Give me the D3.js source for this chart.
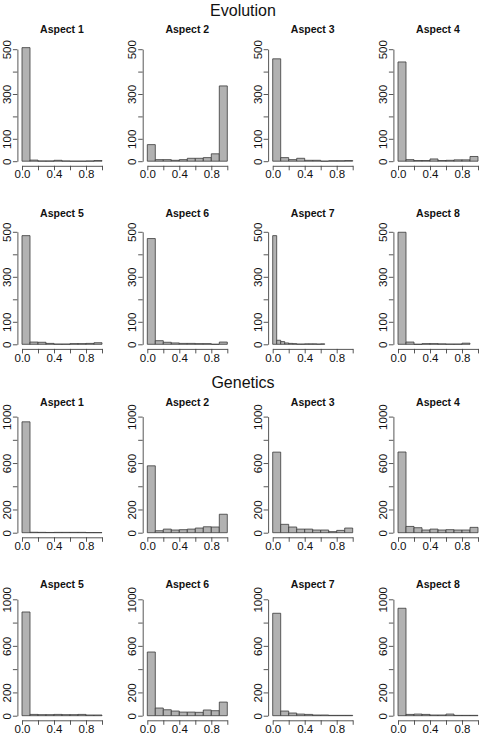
<!DOCTYPE html>
<html>
<head>
<meta charset="utf-8">
<script src="https://cdn.jsdelivr.net/npm/d3@7/dist/d3.min.js"></script>
<style>
  html, body { margin: 0; padding: 0; background: #ffffff; }
  svg { display: block; }
  text { font-family: "Liberation Sans", Arial, Helvetica, sans-serif; }
</style>
</head>
<body>
<svg id="chart" width="480" height="734"></svg>
<script>
// ---------------- DATA ----------------
const groupTitles = ["Evolution", "Genetics"];
const panelTitles = ["Aspect 1", "Aspect 2", "Aspect 3", "Aspect 4",
                     "Aspect 5", "Aspect 6", "Aspect 7", "Aspect 8"];

// Evolution: histogram counts (bins start at 0)
const evoAspect1 = [507, 5, 1, 1, 4, 1, 0, 0, 1, 3];
const evoAspect2 = [74, 7, 7, 4, 7, 13, 13, 16, 33, 336];
const evoAspect3 = [457, 16, 7, 13, 4, 4, 0, 2, 2, 3];
const evoAspect4 = [443, 7, 3, 3, 10, 3, 4, 6, 6, 21];
const evoAspect5 = [483, 10, 9, 4, 1, 1, 3, 3, 4, 7];
const evoAspect6 = [470, 16, 9, 6, 4, 4, 3, 3, 0, 10];
const evoAspect7 = [483, 18, 12, 6, 4, 3, 1, 1, 2, 2, 2, 1, 2];
const evoAspect8 = [498, 10, 0, 3, 3, 2, 1, 1, 5];
const evoBinWidths = [0.1, 0.1, 0.1, 0.1, 0.1, 0.1, 0.05, 0.1];

// Genetics: histogram counts
const genAspect1 = [955, 4, 3, 2, 3, 3, 3, 3, 1, 1];
const genAspect2 = [576, 17, 31, 23, 26, 31, 40, 51, 49, 159];
const genAspect3 = [694, 72, 49, 31, 31, 23, 23, 9, 20, 40];
const genAspect4 = [695, 54, 43, 23, 31, 23, 26, 23, 23, 46];
const genAspect5 = [891, 11, 9, 9, 11, 9, 9, 11, 6, 6];
const genAspect6 = [547, 66, 51, 40, 31, 31, 29, 49, 43, 117];
const genAspect7 = [880, 40, 23, 14, 11, 6, 6, 3, 3, 3];
const genAspect8 = [923, 11, 14, 11, 6, 6, 14, 3, 3, 3];
const genBinWidths = [0.1, 0.1, 0.1, 0.1, 0.1, 0.1, 0.1, 0.1];

// Axis ticks / labels
const xTicks = [0, 0.2, 0.4, 0.6, 0.8, 1.0];
const xTickLabels = ["0.0", "0.4", "0.8"];
const evoYTicks = [0, 100, 200, 300, 400, 500];
const evoYTickLabels = ["0", "100", "300", "500"];
const genYTicks = [0, 200, 400, 600, 800, 1000];
const genYTickLabels = ["0", "200", "600", "1000"];

// ---------------- LAYOUT ----------------
const colX0 = [22, 147.3, 272.7, 398];   // pixel of x = 0
const unitW = 80;                        // pixels per 1.0 on x
const rows = [
  { base: 161.2, top: 49.2,  titleY: 33.2,  labY: 177.6 },
  { base: 344.3, top: 231.8, titleY: 216.6, labY: 361.6 },
  { base: 532.7, top: 416.6, titleY: 405.6, labY: 549.6 },
  { base: 715.7, top: 599.3, titleY: 588.0, labY: 733.0 }
];
const groupTitleY = [16, 388];

const groups = [
  { title: groupTitles[0], rowStart: 0,
    counts: [evoAspect1, evoAspect2, evoAspect3, evoAspect4, evoAspect5, evoAspect6, evoAspect7, evoAspect8],
    widths: evoBinWidths, yMax: 500, yTicks: evoYTicks, yLabels: evoYTickLabels },
  { title: groupTitles[1], rowStart: 2,
    counts: [genAspect1, genAspect2, genAspect3, genAspect4, genAspect5, genAspect6, genAspect7, genAspect8],
    widths: genBinWidths, yMax: 1000, yTicks: genYTicks, yLabels: genYTickLabels }
];

const svg = d3.select("#chart");
svg.append("rect").attr("width", 480).attr("height", 734).attr("fill", "#fff");

const tickLen = 4.5;
const axisOff = 4.6;
const axisColor = "#444";
const textColor = "#111";
const tickFont = "11.5px";

groups.forEach((grp, gi) => {
  svg.append("text")
    .attr("x", 243).attr("y", groupTitleY[gi])
    .attr("text-anchor", "middle")
    .attr("font-size", "16px")
    .attr("fill", textColor)
    .text(grp.title);

  grp.counts.forEach((counts, i) => {
    const r = rows[grp.rowStart + Math.floor(i / 4)];
    const x0 = colX0[i % 4];
    const xs = d3.scaleLinear().domain([0, 1]).range([x0, x0 + unitW]);
    const ys = d3.scaleLinear().domain([0, grp.yMax]).range([r.base, r.top]);
    const w = grp.widths[i];
    const g = svg.append("g");

    // title
    g.append("text")
      .attr("x", x0 + unitW / 2).attr("y", r.titleY)
      .attr("text-anchor", "middle")
      .attr("font-size", "10.5px").attr("font-weight", "bold")
      .attr("fill", textColor)
      .text(panelTitles[i]);

    // bars (paths so that empty bins still show a baseline stroke)
    const bins = counts.map((v, k) => ({ a: k * w, b: (k + 1) * w, v: v }));
    g.selectAll("path.bar").data(bins).enter().append("path")
      .attr("class", "bar")
      .attr("d", d => {
        const xa = xs(d.a), xb = xs(d.b), y0 = ys(0), y1 = ys(d.v);
        return `M${xa},${y0}V${y1}H${xb}V${y0}Z`;
      })
      .attr("fill", "#b2b2b2")
      .attr("stroke", "#3a3a3a")
      .attr("stroke-width", 0.8);

    // x axis
    const xa = d3.axisBottom(xs).tickValues(xTicks).tickSize(tickLen).tickSizeOuter(0)
      .tickFormat(d => { const s = d3.format(".1f")(d); return xTickLabels.includes(s) ? s : ""; });
    const xg = g.append("g").attr("transform", `translate(0,${r.base + axisOff})`).call(xa);
    xg.select(".domain").attr("stroke", axisColor).attr("stroke-width", 0.9);
    xg.selectAll(".tick line").attr("stroke", axisColor).attr("stroke-width", 0.9);
    xg.selectAll(".tick text")
      .attr("dy", null)
      .attr("y", r.labY - r.base - axisOff)
      .attr("font-size", tickFont).attr("fill", textColor)
      .attr("font-family", "Liberation Sans, Arial, sans-serif");

    // y axis
    const ya = d3.axisLeft(ys).tickValues(grp.yTicks).tickSize(tickLen).tickSizeOuter(0)
      .tickFormat(d => grp.yLabels.includes(String(d)) ? String(d) : "");
    const yg = g.append("g").attr("transform", `translate(${x0 - axisOff},0)`).call(ya);
    yg.select(".domain").attr("stroke", axisColor).attr("stroke-width", 0.9);
    yg.selectAll(".tick line").attr("stroke", axisColor).attr("stroke-width", 0.9);
    yg.selectAll(".tick text")
      .attr("x", 0).attr("dy", 0)
      .attr("y", -6.6)
      .attr("transform", "rotate(-90)")
      .attr("text-anchor", "middle")
      .attr("font-size", tickFont).attr("fill", textColor)
      .attr("font-family", "Liberation Sans, Arial, sans-serif");
  });
});
</script>
</body>
</html>
